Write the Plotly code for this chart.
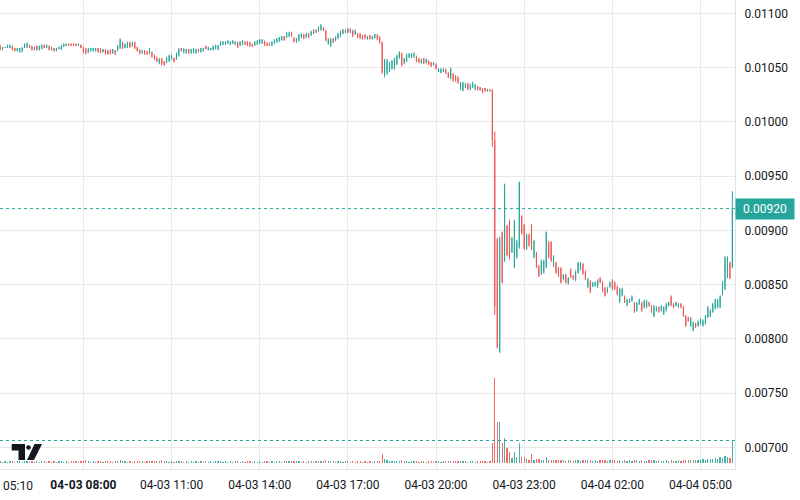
import plotly.graph_objects as go
import pandas as pd

# 5-minute candles, 04-03 05:10 .. 04-04 06:05
times = pd.date_range("2025-04-03 05:10", periods=300, freq="5min")

open_ = [
1070e-5,1066e-5,1068e-5,1068e-5,1068e-5,1070e-5,1068e-5,1065e-5,1064e-5,1065e-5,
1068e-5,1069e-5,1071e-5,1070e-5,1066e-5,1070e-5,1066e-5,1067e-5,1071e-5,1068e-5,
1070e-5,1066e-5,1068e-5,1065e-5,1067e-5,1067e-5,1069e-5,1070e-5,1072e-5,1072e-5,
1072e-5,1072e-5,1070e-5,1071e-5,1068e-5,1067e-5,1064e-5,1065e-5,1065e-5,1065e-5,
1068e-5,1067e-5,1064e-5,1066e-5,1066e-5,1066e-5,1063e-5,1066e-5,1066e-5,1068e-5,
1073e-5,1068e-5,1069e-5,1073e-5,1070e-5,1073e-5,1069e-5,1066e-5,1063e-5,1066e-5,
1065e-5,1063e-5,1064e-5,1061e-5,1059e-5,1054e-5,1058e-5,1056e-5,1055e-5,1056e-5,
1058e-5,1059e-5,1058e-5,1061e-5,1068e-5,1064e-5,1063e-5,1067e-5,1063e-5,1064e-5,
1063e-5,1067e-5,1064e-5,1065e-5,1070e-5,1066e-5,1066e-5,1066e-5,1067e-5,1067e-5,
1070e-5,1071e-5,1071e-5,1072e-5,1071e-5,1072e-5,1071e-5,1073e-5,1070e-5,1071e-5,
1074e-5,1074e-5,1073e-5,1072e-5,1070e-5,1071e-5,1072e-5,1072e-5,1074e-5,1073e-5,
1073e-5,1070e-5,1072e-5,1073e-5,1074e-5,1075e-5,1079e-5,1078e-5,1079e-5,1082e-5,
1077e-5,1073e-5,1075e-5,1078e-5,1080e-5,1078e-5,1081e-5,1080e-5,1081e-5,1085e-5,
1084e-5,1085e-5,1087e-5,1084e-5,1072e-5,1070e-5,1077e-5,1075e-5,1077e-5,1079e-5,
1081e-5,1085e-5,1082e-5,1086e-5,1084e-5,1081e-5,1081e-5,1081e-5,1080e-5,1080e-5,
1076e-5,1080e-5,1076e-5,1077e-5,1080e-5,1078e-5,1073e-5,1043e-5,1045e-5,1047e-5,
1049e-5,1049e-5,1053e-5,1059e-5,1063e-5,1054e-5,1056e-5,1059e-5,1059e-5,1060e-5,
1060e-5,1058e-5,1054e-5,1058e-5,1054e-5,1056e-5,1055e-5,1052e-5,1053e-5,1046e-5,
1045e-5,1046e-5,1048e-5,1045e-5,1040e-5,1044e-5,1042e-5,1041e-5,1030e-5,1029e-5,
1032e-5,1035e-5,1030e-5,1032e-5,1030e-5,1033e-5,1032e-5,1030e-5,1031e-5,1028e-5,
1030e-5,1029e-5,983e-5,892e-5,788e-5,898e-5,872e-5,904e-5,909e-5,880e-5,
866e-5,875e-5,884e-5,913e-5,905e-5,883e-5,896e-5,905e-5,875e-5,879e-5,
867e-5,860e-5,861e-5,866e-5,889e-5,889e-5,867e-5,870e-5,865e-5,865e-5,
855e-5,859e-5,851e-5,864e-5,858e-5,854e-5,861e-5,864e-5,869e-5,862e-5,
848e-5,853e-5,848e-5,849e-5,848e-5,856e-5,852e-5,847e-5,843e-5,848e-5,
854e-5,852e-5,848e-5,834e-5,840e-5,839e-5,831e-5,833e-5,835e-5,833e-5,
826e-5,832e-5,833e-5,829e-5,829e-5,834e-5,830e-5,821e-5,826e-5,829e-5,
826e-5,823e-5,826e-5,830e-5,839e-5,832e-5,830e-5,829e-5,832e-5,829e-5,
821e-5,820e-5,812e-5,808e-5,814e-5,812e-5,814e-5,812e-5,814e-5,820e-5,
821e-5,825e-5,828e-5,829e-5,829e-5,841e-5,846e-5,857e-5,870e-5,866e-5,
]

high = [
1071e-5,1069e-5,1069e-5,1071e-5,1071e-5,1070e-5,1068e-5,1068e-5,1068e-5,1069e-5,
1072e-5,1073e-5,1071e-5,1070e-5,1069e-5,1070e-5,1070e-5,1071e-5,1071e-5,1071e-5,
1070e-5,1069e-5,1068e-5,1068e-5,1069e-5,1071e-5,1072e-5,1072e-5,1072e-5,1072e-5,
1072e-5,1072e-5,1072e-5,1071e-5,1069e-5,1068e-5,1068e-5,1068e-5,1068e-5,1068e-5,
1068e-5,1068e-5,1067e-5,1067e-5,1066e-5,1067e-5,1067e-5,1066e-5,1071e-5,1077e-5,
1074e-5,1072e-5,1074e-5,1074e-5,1074e-5,1074e-5,1069e-5,1067e-5,1066e-5,1066e-5,
1065e-5,1068e-5,1065e-5,1062e-5,1060e-5,1059e-5,1059e-5,1056e-5,1060e-5,1062e-5,
1062e-5,1059e-5,1064e-5,1068e-5,1068e-5,1068e-5,1067e-5,1067e-5,1067e-5,1068e-5,
1067e-5,1067e-5,1068e-5,1068e-5,1070e-5,1069e-5,1068e-5,1070e-5,1071e-5,1071e-5,
1074e-5,1074e-5,1074e-5,1075e-5,1074e-5,1075e-5,1074e-5,1074e-5,1074e-5,1075e-5,
1074e-5,1074e-5,1074e-5,1072e-5,1074e-5,1075e-5,1076e-5,1076e-5,1075e-5,1073e-5,
1073e-5,1074e-5,1076e-5,1077e-5,1078e-5,1079e-5,1079e-5,1083e-5,1083e-5,1083e-5,
1078e-5,1077e-5,1081e-5,1082e-5,1081e-5,1082e-5,1082e-5,1084e-5,1085e-5,1085e-5,
1088e-5,1090e-5,1087e-5,1085e-5,1077e-5,1077e-5,1077e-5,1079e-5,1082e-5,1084e-5,
1085e-5,1085e-5,1086e-5,1086e-5,1085e-5,1085e-5,1082e-5,1082e-5,1080e-5,1081e-5,
1079e-5,1080e-5,1079e-5,1081e-5,1081e-5,1079e-5,1074e-5,1058e-5,1058e-5,1055e-5,
1057e-5,1059e-5,1062e-5,1065e-5,1064e-5,1059e-5,1063e-5,1063e-5,1063e-5,1064e-5,
1061e-5,1059e-5,1058e-5,1059e-5,1058e-5,1057e-5,1055e-5,1055e-5,1054e-5,1049e-5,
1049e-5,1049e-5,1049e-5,1046e-5,1050e-5,1045e-5,1043e-5,1042e-5,1037e-5,1037e-5,
1036e-5,1036e-5,1035e-5,1037e-5,1035e-5,1033e-5,1032e-5,1031e-5,1031e-5,1030e-5,
1030e-5,1030e-5,991e-5,893e-5,894e-5,899e-5,943e-5,905e-5,910e-5,894e-5,
910e-5,891e-5,945e-5,914e-5,906e-5,897e-5,897e-5,906e-5,891e-5,880e-5,
868e-5,873e-5,873e-5,899e-5,890e-5,890e-5,877e-5,871e-5,866e-5,866e-5,
860e-5,860e-5,857e-5,865e-5,859e-5,863e-5,871e-5,871e-5,870e-5,863e-5,
856e-5,854e-5,852e-5,853e-5,855e-5,857e-5,853e-5,848e-5,848e-5,853e-5,
855e-5,853e-5,849e-5,847e-5,847e-5,840e-5,837e-5,837e-5,840e-5,834e-5,
834e-5,837e-5,834e-5,836e-5,836e-5,834e-5,831e-5,831e-5,830e-5,830e-5,
831e-5,830e-5,833e-5,834e-5,840e-5,833e-5,834e-5,833e-5,833e-5,830e-5,
822e-5,820e-5,820e-5,816e-5,815e-5,817e-5,819e-5,818e-5,822e-5,830e-5,
827e-5,833e-5,837e-5,837e-5,840e-5,853e-5,876e-5,876e-5,871e-5,936e-5,
]

low = [
1066e-5,1066e-5,1068e-5,1068e-5,1068e-5,1066e-5,1065e-5,1065e-5,1064e-5,1064e-5,
1068e-5,1068e-5,1068e-5,1066e-5,1066e-5,1066e-5,1066e-5,1067e-5,1068e-5,1068e-5,
1066e-5,1066e-5,1065e-5,1065e-5,1067e-5,1066e-5,1069e-5,1070e-5,1070e-5,1070e-5,
1070e-5,1070e-5,1070e-5,1068e-5,1063e-5,1062e-5,1063e-5,1065e-5,1065e-5,1065e-5,
1064e-5,1063e-5,1064e-5,1062e-5,1062e-5,1062e-5,1063e-5,1062e-5,1065e-5,1067e-5,
1067e-5,1068e-5,1068e-5,1068e-5,1069e-5,1067e-5,1065e-5,1062e-5,1063e-5,1062e-5,
1062e-5,1062e-5,1059e-5,1057e-5,1055e-5,1053e-5,1052e-5,1052e-5,1054e-5,1055e-5,
1057e-5,1055e-5,1057e-5,1060e-5,1065e-5,1063e-5,1063e-5,1063e-5,1063e-5,1063e-5,
1063e-5,1064e-5,1064e-5,1065e-5,1067e-5,1066e-5,1066e-5,1066e-5,1067e-5,1066e-5,
1070e-5,1071e-5,1071e-5,1072e-5,1071e-5,1072e-5,1071e-5,1068e-5,1070e-5,1071e-5,
1071e-5,1070e-5,1069e-5,1069e-5,1070e-5,1071e-5,1072e-5,1072e-5,1070e-5,1070e-5,
1070e-5,1070e-5,1072e-5,1073e-5,1074e-5,1075e-5,1075e-5,1077e-5,1078e-5,1078e-5,
1073e-5,1073e-5,1074e-5,1077e-5,1076e-5,1077e-5,1077e-5,1079e-5,1081e-5,1082e-5,
1083e-5,1084e-5,1084e-5,1074e-5,1071e-5,1069e-5,1073e-5,1074e-5,1076e-5,1078e-5,
1081e-5,1082e-5,1082e-5,1082e-5,1078e-5,1080e-5,1077e-5,1076e-5,1076e-5,1076e-5,
1076e-5,1076e-5,1076e-5,1077e-5,1075e-5,1072e-5,1044e-5,1041e-5,1043e-5,1046e-5,
1048e-5,1048e-5,1052e-5,1058e-5,1051e-5,1053e-5,1055e-5,1059e-5,1059e-5,1059e-5,
1055e-5,1054e-5,1054e-5,1053e-5,1054e-5,1052e-5,1051e-5,1052e-5,1048e-5,1046e-5,
1045e-5,1046e-5,1044e-5,1040e-5,1039e-5,1037e-5,1037e-5,1035e-5,1029e-5,1028e-5,
1031e-5,1029e-5,1029e-5,1031e-5,1029e-5,1029e-5,1029e-5,1026e-5,1028e-5,1028e-5,
1028e-5,977e-5,822e-5,791e-5,787e-5,851e-5,871e-5,876e-5,873e-5,879e-5,
865e-5,874e-5,883e-5,896e-5,882e-5,882e-5,885e-5,882e-5,874e-5,865e-5,
857e-5,859e-5,860e-5,865e-5,874e-5,871e-5,866e-5,860e-5,857e-5,851e-5,
854e-5,851e-5,850e-5,856e-5,854e-5,853e-5,860e-5,863e-5,859e-5,854e-5,
847e-5,842e-5,848e-5,848e-5,847e-5,851e-5,843e-5,839e-5,842e-5,847e-5,
845e-5,845e-5,840e-5,833e-5,839e-5,833e-5,830e-5,833e-5,834e-5,824e-5,
825e-5,831e-5,825e-5,828e-5,828e-5,830e-5,824e-5,820e-5,825e-5,824e-5,
825e-5,822e-5,825e-5,830e-5,830e-5,828e-5,830e-5,829e-5,828e-5,820e-5,
811e-5,816e-5,811e-5,807e-5,810e-5,811e-5,813e-5,811e-5,813e-5,819e-5,
820e-5,824e-5,827e-5,828e-5,828e-5,840e-5,845e-5,856e-5,855e-5,865e-5,
]

close = [
1067e-5,1069e-5,1069e-5,1071e-5,1071e-5,1066e-5,1065e-5,1068e-5,1068e-5,1068e-5,
1072e-5,1072e-5,1068e-5,1066e-5,1069e-5,1066e-5,1070e-5,1071e-5,1068e-5,1071e-5,
1066e-5,1069e-5,1065e-5,1068e-5,1069e-5,1070e-5,1072e-5,1072e-5,1070e-5,1070e-5,
1070e-5,1070e-5,1072e-5,1068e-5,1064e-5,1063e-5,1067e-5,1068e-5,1068e-5,1068e-5,
1064e-5,1064e-5,1067e-5,1063e-5,1062e-5,1063e-5,1067e-5,1062e-5,1070e-5,1076e-5,
1068e-5,1072e-5,1073e-5,1069e-5,1073e-5,1068e-5,1065e-5,1063e-5,1066e-5,1062e-5,
1062e-5,1067e-5,1060e-5,1058e-5,1056e-5,1058e-5,1053e-5,1052e-5,1059e-5,1061e-5,
1061e-5,1055e-5,1063e-5,1067e-5,1065e-5,1067e-5,1067e-5,1063e-5,1067e-5,1067e-5,
1067e-5,1064e-5,1068e-5,1068e-5,1067e-5,1069e-5,1068e-5,1070e-5,1071e-5,1070e-5,
1074e-5,1074e-5,1074e-5,1075e-5,1074e-5,1075e-5,1074e-5,1069e-5,1074e-5,1075e-5,
1071e-5,1070e-5,1070e-5,1069e-5,1074e-5,1075e-5,1076e-5,1076e-5,1071e-5,1070e-5,
1070e-5,1074e-5,1076e-5,1077e-5,1078e-5,1079e-5,1075e-5,1082e-5,1082e-5,1079e-5,
1074e-5,1077e-5,1080e-5,1081e-5,1077e-5,1081e-5,1078e-5,1083e-5,1085e-5,1082e-5,
1087e-5,1089e-5,1084e-5,1075e-5,1076e-5,1076e-5,1073e-5,1078e-5,1081e-5,1083e-5,
1085e-5,1082e-5,1086e-5,1082e-5,1079e-5,1084e-5,1078e-5,1077e-5,1076e-5,1077e-5,
1079e-5,1076e-5,1079e-5,1081e-5,1076e-5,1073e-5,1046e-5,1056e-5,1056e-5,1054e-5,
1056e-5,1058e-5,1061e-5,1064e-5,1052e-5,1058e-5,1062e-5,1063e-5,1063e-5,1063e-5,
1056e-5,1055e-5,1058e-5,1054e-5,1058e-5,1053e-5,1051e-5,1055e-5,1049e-5,1049e-5,
1049e-5,1049e-5,1045e-5,1041e-5,1049e-5,1038e-5,1038e-5,1036e-5,1036e-5,1036e-5,
1035e-5,1030e-5,1034e-5,1036e-5,1034e-5,1029e-5,1029e-5,1027e-5,1028e-5,1030e-5,
1028e-5,983e-5,830e-5,792e-5,893e-5,852e-5,942e-5,877e-5,874e-5,893e-5,
909e-5,890e-5,944e-5,897e-5,883e-5,896e-5,886e-5,883e-5,890e-5,866e-5,
858e-5,872e-5,872e-5,898e-5,875e-5,872e-5,876e-5,861e-5,858e-5,852e-5,
859e-5,852e-5,856e-5,857e-5,855e-5,862e-5,870e-5,870e-5,860e-5,855e-5,
855e-5,843e-5,852e-5,852e-5,854e-5,852e-5,844e-5,840e-5,847e-5,852e-5,
846e-5,846e-5,841e-5,846e-5,846e-5,834e-5,836e-5,837e-5,839e-5,825e-5,
833e-5,836e-5,826e-5,835e-5,835e-5,830e-5,825e-5,830e-5,829e-5,825e-5,
830e-5,829e-5,832e-5,834e-5,831e-5,829e-5,834e-5,833e-5,829e-5,821e-5,
812e-5,816e-5,819e-5,815e-5,811e-5,816e-5,818e-5,817e-5,821e-5,829e-5,
826e-5,832e-5,836e-5,836e-5,839e-5,852e-5,875e-5,875e-5,856e-5,920e-5,
]

volume = [
2, 1.5, 2, 1.5, 2.5, 2, 1.5, 2, 2, 1.5, 2.5, 2, 1.5, 2, 1.5, 2, 1.5, 2, 2, 1.5,
2, 1.5, 2, 1.5, 2, 2, 1.5, 2, 1.5, 2, 2.5, 2, 1.5, 2, 2.5, 3, 2, 1.5, 2, 1.5,
2, 2.5, 1.5, 2, 2.5, 2, 1.5, 2, 2, 3, 2.5, 2, 1.5, 2, 1.5, 2, 2, 2.5, 2, 1.5,
2, 2, 2.5, 2, 2.5, 2, 3, 2, 2, 1.5, 2, 1.5, 2, 2.5, 2, 1.5, 2, 1.5, 2, 1.5,
2, 1.5, 2, 1.5, 2, 1.5, 2, 1.5, 2, 2, 2, 1.5, 2, 1.5, 2, 1.5, 2, 2, 1.5, 2,
1.5, 2, 2, 1.5, 2, 1.5, 2, 1.5, 2, 2, 1.5, 2, 1.5, 2, 2, 1.5, 2, 2.5, 2, 2,
2.5, 2, 2, 1.5, 2, 1.5, 2, 2, 1.5, 2, 2, 2.5, 2, 3, 2.5, 2, 2, 1.5, 2, 2,
1.5, 2, 2, 1.5, 2, 1.5, 2, 2, 1.5, 2, 1.5, 2, 1.5, 2, 2, 2.5, 9, 4, 3, 2.5,
2.5, 2, 2.5, 2, 3, 2, 2, 1.5, 2, 2, 2, 1.5, 2, 2, 1.5, 2, 2, 1.5, 2, 2,
1.5, 2, 2, 2, 2.5, 2, 2.5, 2, 2.5, 2, 2, 1.5, 2, 2, 1.5, 2, 2, 2, 2, 1.5, 2,
20, 85, 41, 41, 20, 25, 15, 11, 5, 11, 6, 20, 6, 6, 4, 3, 9, 3, 4, 4, 3, 3, 6,
3, 3.5, 3, 3, 3.5, 3, 3, 2.5, 3, 3, 2.5, 3, 3, 2.5, 3, 3, 3, 3.5, 2.5, 3,
2.5, 3, 3, 3.5, 2.5, 3,
3, 3, 2.5, 3, 2.5, 3, 2.5, 3, 2.5, 3, 3, 2.5, 3, 2.5, 2.5, 3, 3, 3, 2.5, 3,
2.5, 2.5, 3, 2.5, 3, 2.5, 2.5, 3, 2.5, 3, 3.5,
3, 3, 3.5, 3, 3, 3.5, 4, 3.5, 4, 4.5, 4, 5, 4.5, 6, 5.5, 7, 6, 5.5, 22.5,
]

price_ticks = [0.007, 0.0075, 0.008, 0.0085, 0.009, 0.0095, 0.010, 0.0105, 0.011]
time_ticks = ["2025-04-03 08:00", "2025-04-03 11:00", "2025-04-03 14:00",
              "2025-04-03 17:00", "2025-04-03 20:00", "2025-04-03 23:00",
              "2025-04-04 02:00", "2025-04-04 05:00"]
time_tick_labels = ["<b>04-03 08:00</b>", "04-03 11:00", "04-03 14:00",
                    "04-03 17:00", "04-03 20:00", "04-03 23:00",
                    "04-04 02:00", "04-04 05:00"]
first_time_label = "05:10"
last_price = 0.00920
last_volume = volume[-1]

assert len(open_) == len(high) == len(low) == len(close) == len(volume) == len(times)

UP = "#26a69a"
DOWN = "#ef5350"
GRID = "#e9e9ec"
BORDER = "#e0e3eb"
TEXT = "#131722"
FONT = "Roboto, Liberation Sans, sans-serif"

vol_colors = [UP if c >= o else DOWN for o, c in zip(open_, close)]

fig = go.Figure()
fig.add_trace(go.Bar(
    x=times, y=volume, yaxis="y2",
    marker=dict(color=vol_colors, line=dict(width=0)),
    width=150000, opacity=0.85, hoverinfo="skip", showlegend=False))
fig.add_trace(go.Candlestick(
    x=times, open=open_, high=high, low=low, close=close,
    increasing=dict(line=dict(color=UP, width=1), fillcolor=UP),
    decreasing=dict(line=dict(color=DOWN, width=1), fillcolor=DOWN),
    whiskerwidth=0, showlegend=False))

PW, PH = 735.0, 469.0
def px(x):
    return x / PW
def py(y):
    return (PH - y) / PH

shapes = [
    dict(type="line", xref="paper", x0=0, x1=1, yref="y", y0=last_price, y1=last_price,
         line=dict(color=UP, width=1, dash="dot")),
    dict(type="line", xref="paper", x0=0, x1=1, yref="y2", y0=last_volume, y1=last_volume,
         line=dict(color=UP, width=1, dash="dot")),
    # TradingView logo
    dict(type="rect", xref="paper", yref="paper", x0=px(11.7), x1=px(25), y0=py(450.5), y1=py(444),
         fillcolor=TEXT, line=dict(width=0)),
    dict(type="rect", xref="paper", yref="paper", x0=px(18.5), x1=px(25), y0=py(460), y1=py(444),
         fillcolor=TEXT, line=dict(width=0)),
    dict(type="circle", xref="paper", yref="paper", x0=px(26.2), x1=px(30.8), y0=py(449.8), y1=py(445.2),
         fillcolor=TEXT, line=dict(width=0)),
    dict(type="path", xref="paper", yref="paper",
         path=f"M {px(34.5)} {py(444)} L {px(42)} {py(444)} L {px(34)} {py(460)} L {px(27)} {py(460)} Z",
         fillcolor=TEXT, line=dict(width=0)),
]

annotations = [
    dict(xref="paper", yref="y", x=1, y=last_price, xanchor="left", yanchor="middle",
         text=f"{last_price:.5f}", showarrow=False, bgcolor=UP, borderpad=3, width=52,
         align="center", font=dict(family=FONT, size=12, color="white")),
    dict(xref="paper", yref="paper", x=px(18), y=py(486), xanchor="center", yanchor="middle",
         text=first_time_label, showarrow=False, font=dict(family=FONT, size=12, color=TEXT)),
]

fig.update_layout(
    width=800, height=500,
    margin=dict(l=0, r=65, t=0, b=31),
    paper_bgcolor="white", plot_bgcolor="white",
    showlegend=False, boxgap=0.95, bargap=0,
    font=dict(family=FONT, size=12, color=TEXT),
    xaxis=dict(
        type="date",
        range=["2025-04-03 05:09:45", "2025-04-04 06:10:25"],
        rangeslider=dict(visible=False),
        tickmode="array", tickvals=time_ticks, ticktext=time_tick_labels,
        showgrid=True, gridcolor=GRID, gridwidth=1,
        showline=True, linecolor=BORDER, linewidth=1,
        ticks="outside", ticklen=5, tickcolor="rgba(0,0,0,0)",
        tickfont=dict(family=FONT, size=12, color=TEXT),
        zeroline=False, fixedrange=True),
    yaxis=dict(
        side="right", range=[0.0068, 0.0111226],
        tickmode="array", tickvals=price_ticks, tickformat=".5f",
        showgrid=True, gridcolor=GRID, gridwidth=1,
        showline=True, linecolor=BORDER, linewidth=1,
        ticks="outside", ticklen=6, tickcolor="rgba(0,0,0,0)",
        tickfont=dict(family=FONT, size=12, color=TEXT),
        zeroline=False, fixedrange=True),
    yaxis2=dict(overlaying="y", range=[-6, 463], visible=False, fixedrange=True),
    shapes=shapes,
    annotations=annotations,
)

fig.write_html("out.html",
               config={"displayModeBar": False, "staticPlot": True},
               post_script="document.body.style.margin='0px';document.body.style.overflow='hidden';")
